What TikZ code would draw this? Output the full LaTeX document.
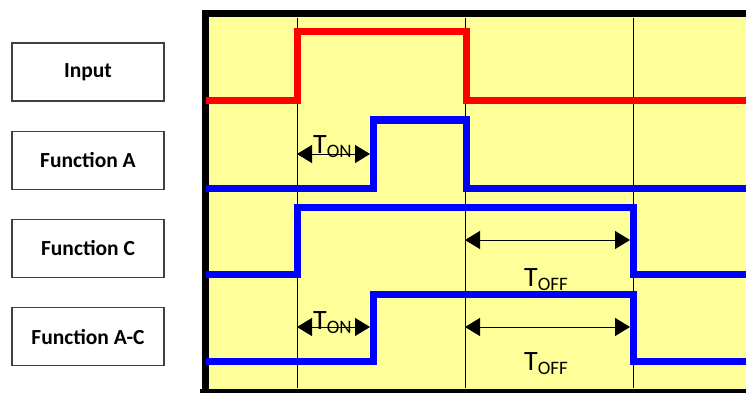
\documentclass[tikz,border=0pt]{standalone}
\usepackage{fontspec}
\setmainfont{Carlito}
\usetikzlibrary{arrows.meta,positioning}
\definecolor{panelyellow}{RGB}{255,255,153}
\definecolor{boxgray}{RGB}{64,64,64}
\definecolor{sigred}{RGB}{255,0,0}
\definecolor{sigblue}{RGB}{0,0,255}
\newcommand{\tsub}[1]{T\raisebox{-4.5pt}{\fontsize{19}{19}\selectfont #1}}

\begin{document}
\begin{tikzpicture}[x=1pt, y=-1pt]
\tikzstyle{sigbox} = [rectangle, minimum width=152pt, minimum height=58pt, text centered, draw=boxgray, line width=1.2pt, fill=white, font=\bfseries\fontsize{21.5}{25}\selectfont]
\tikzstyle{signal} = [line width=7pt, line join=miter]
\tikzstyle{gridline} = [line width=0.9pt, black]
\tikzstyle{dim} = [line width=0.9pt, {Triangle[length=15pt,width=18pt]}-{Triangle[length=15pt,width=18pt]}]
\tikzstyle{tname} = [anchor=base west, inner sep=0pt, font=\fontsize{28}{28}\selectfont]

\useasboundingbox (0,0) rectangle (746,393);

\node (input) [sigbox] at (88,72) {Input};
\node (funca) [sigbox, below=29pt of input] {Function A};
\node (funcc) [sigbox, below=29pt of funca] {Function C};
\node (funcac) [sigbox, below=29pt of funcc] {Function A-C};

\fill[panelyellow] (205,14) rectangle (760,400);
\draw[line width=7pt] (205.5,400) -- (205.5,14) -- (760,14);
\draw[line width=7pt] (200,392) -- (760,392);

\foreach \x in {297,465,633}
  \draw[gridline] (\x,18) -- (\x,388);

\draw[signal, sigred] (206,101) -- (297,101) -- (297,32) -- (466,32) -- (466,101) -- (750,101);
\draw[signal, sigblue] (206,188) -- (373,188) -- (373,120) -- (466,120) -- (466,188) -- (750,188);
\draw[signal, sigblue] (206,274) -- (297,274) -- (297,207) -- (633,207) -- (633,274) -- (750,274);
\draw[signal, sigblue] (206,361) -- (373,361) -- (373,294) -- (633,294) -- (633,361) -- (750,361);

\coordinate (ona1) at (297,154);
\coordinate (ona2) at (370,154);
\coordinate (onac1) at (297,327);
\coordinate (onac2) at (370,327);
\coordinate (offc1) at (465,240);
\coordinate (offc2) at (630,240);
\coordinate (offac1) at (465,327);
\coordinate (offac2) at (630,327);

\draw[dim] (ona1) -- (ona2);
\draw[dim] (onac1) -- (onac2);
\draw[dim] (offc1) -- (offc2);
\draw[dim] (offac1) -- (offac2);

\node (tona) [tname] at (313,153) {\tsub{ON}};
\node (tonac) [tname] at (313,329) {\tsub{ON}};
\node (toffc) [tname] at (524,286) {\tsub{OFF}};
\node (toffac) [tname] at (524,370) {\tsub{OFF}};
\end{tikzpicture}
\end{document}
